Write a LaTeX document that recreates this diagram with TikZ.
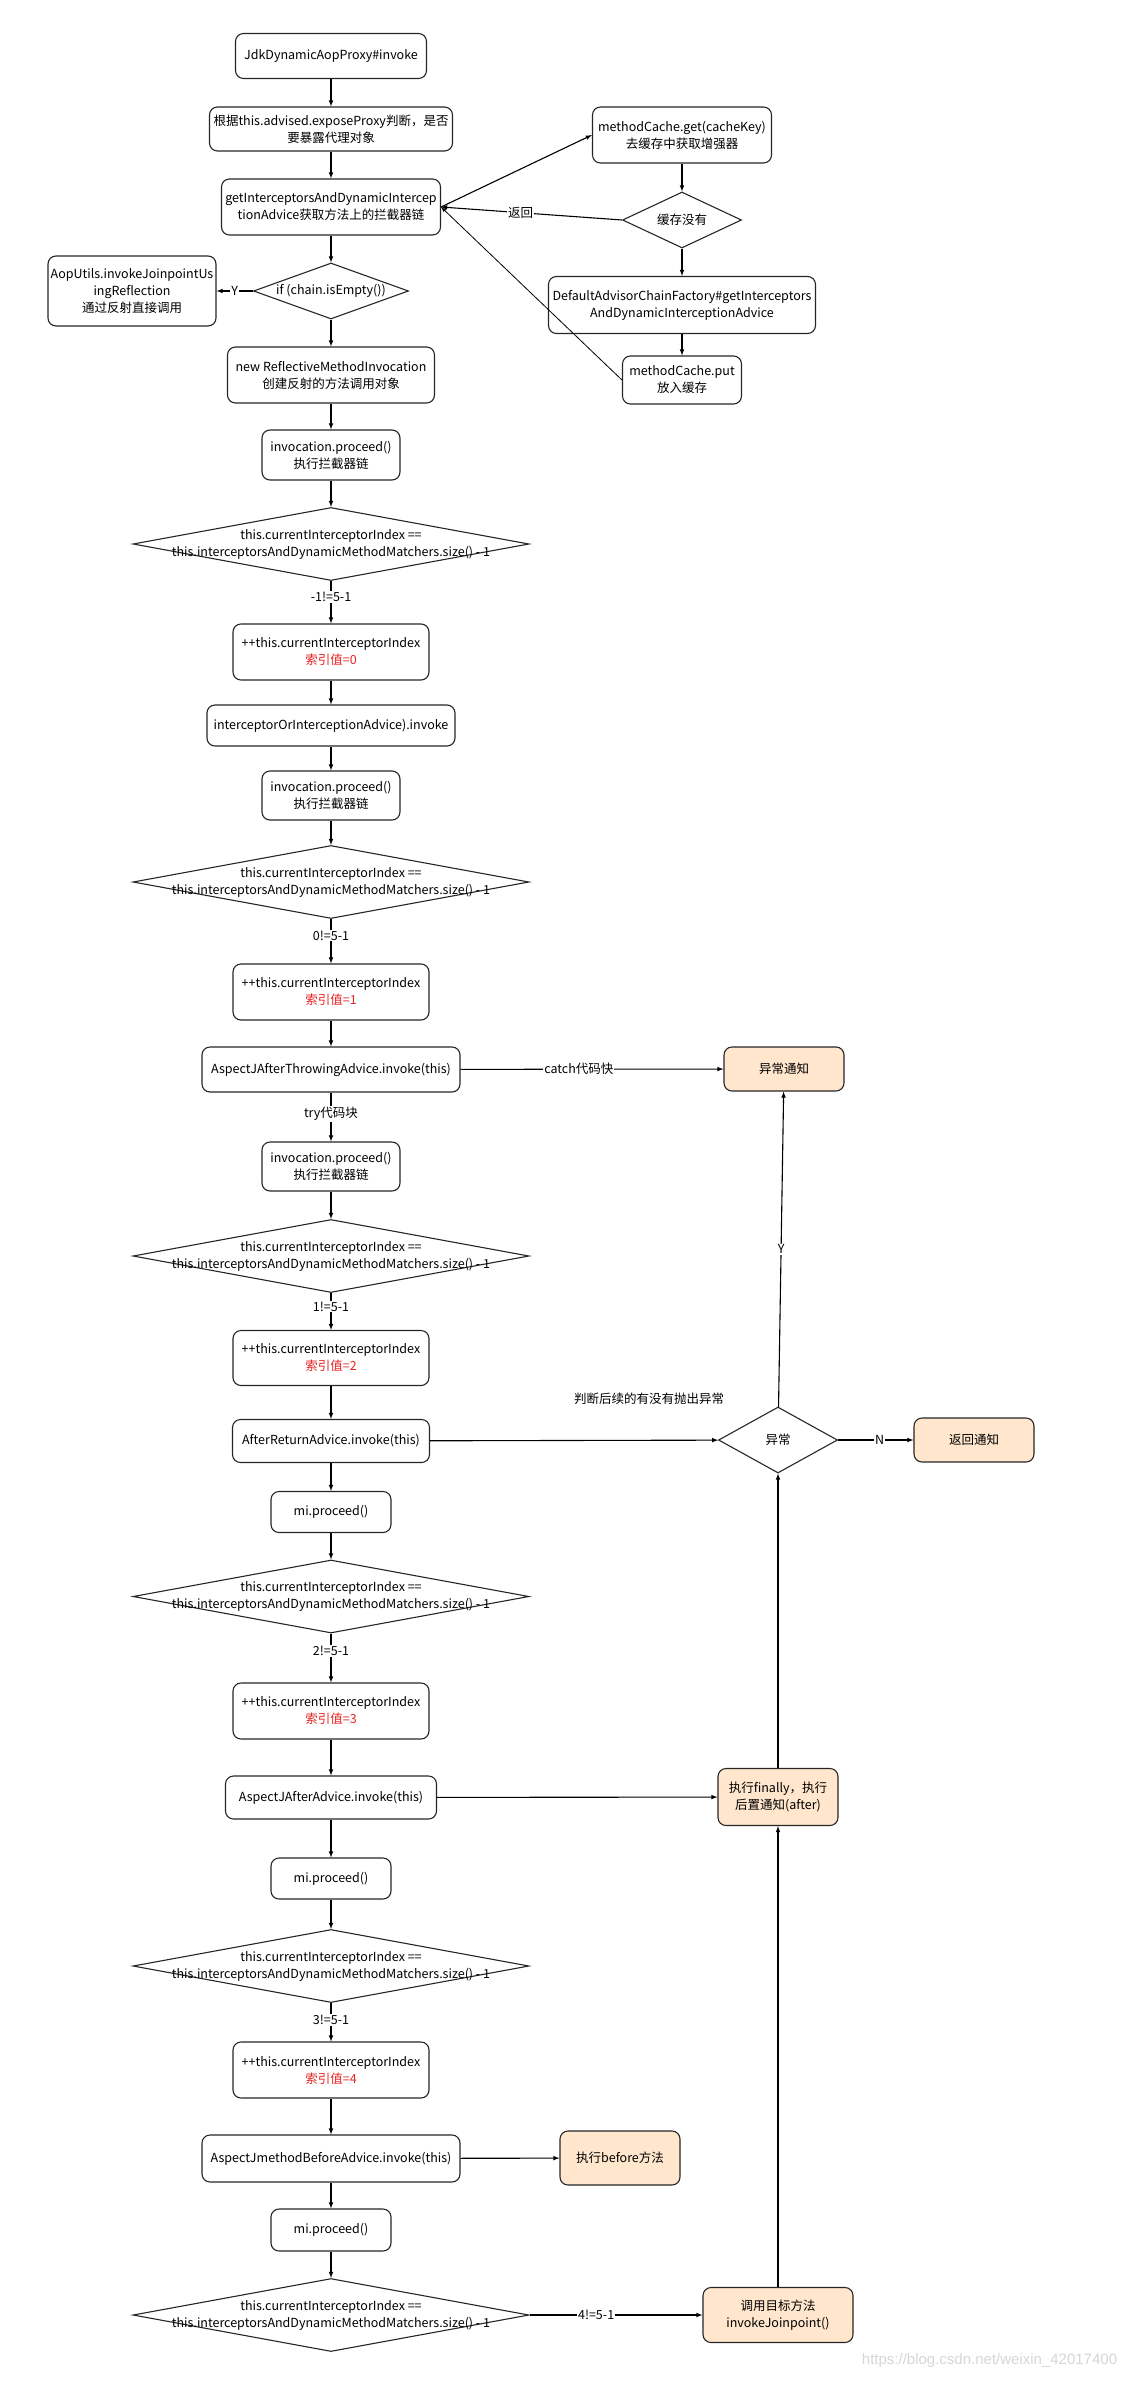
\documentclass[tikz,border=0pt]{standalone}
\usepackage{fontspec}
\setmainfont{Noto Sans CJK SC}
\newfontfamily\markfont{Liberation Sans}
\usepackage{xcolor}
\usetikzlibrary{arrows}
\usetikzlibrary{shapes.geometric}

\definecolor{notefill}{HTML}{FFE6CC}
\definecolor{idxred}{HTML}{E52222}
\newcommand{\condtext}{this.currentInterceptorIndex ==\\this.interceptorsAndDynamicMethodMatchers.size() - 1}
\newcommand{\idx}[1]{++this.currentInterceptorIndex\\{\color{idxred}索引值=#1}}

\tikzset{
  box/.style 2 args={rectangle, draw=black!85, rounded corners=8pt, minimum width=#1pt, minimum height=#2pt, inner sep=1pt, align=center},
  advbox/.style 2 args={box={#1}{#2}, fill=notefill},
  decide/.style 2 args={diamond, draw=black!85, minimum width=#1pt, minimum height=#2pt, inner sep=0pt},
  lbl/.style={fill=white, inner sep=1pt},
}

\begin{document}
\begin{tikzpicture}[x=1pt, y=-1pt, line width=1.1pt, >=latex, font=\fontsize{12.5}{17}\selectfont]

\useasboundingbox (0,0) rectangle (1123,2381);

% main column
\node[box={191}{45}] (jdk) at (331,56) {JdkDynamicAopProxy\#invoke};
\node[box={243}{44}] (expose) at (331,129) {根据this.advised.exposeProxy判断，是否\\要暴露代理对象};
\node[box={219}{56}] (getIC) at (331,207) {getInterceptorsAndDynamicIntercep\\tionAdvice获取方法上的拦截器链};
\node[decide={155}{56}] (ifEmpty) at (331,291) {};
\node (ifEmptyT) at (ifEmpty) {if (chain.isEmpty())};
\node[box={168}{70}] (aopUtils) at (132,291) {AopUtils.invokeJoinpointUs\\ingReflection\\通过反射直接调用};
\node[box={207}{56}] (newRMI) at (331,375) {new ReflectiveMethodInvocation\\创建反射的方法调用对象};
\node[box={138}{50}] (proc1) at (331,455) {invocation.proceed()\\执行拦截器链};

% the six index checks
\foreach \n/\y in {d1/544, d2/882, d3/1256, d4/1596.5, d5/1966, d6/2315} {
  \node[decide={396}{73}] (\n) at (331,\y) {};
  \node[align=center] (\n t) at (\n) {\condtext};
}

\node[box={196}{56}] (inc0) at (331,652) {\idx{0}};
\node[box={248}{41}] (icpt) at (331,725.5) {interceptorOrInterceptionAdvice).invoke};
\node[box={138}{49}] (proc2) at (331,795.5) {invocation.proceed()\\执行拦截器链};
\node[box={196}{56}] (inc1) at (331,992) {\idx{1}};
\node[box={258}{45}] (throwing) at (331,1069.5) {AspectJAfterThrowingAdvice.invoke(this)};
\node[box={138}{49}] (proc3) at (331,1166.5) {invocation.proceed()\\执行拦截器链};
\node[box={196}{55}] (inc2) at (331,1358) {\idx{2}};
\node[box={197}{43}] (afterRet) at (331,1441) {AfterReturnAdvice.invoke(this)};
\node[box={120}{41}] (mi1) at (331,1512) {mi.proceed()};
\node[box={196}{56}] (inc3) at (331,1711) {\idx{3}};
\node[box={211}{43}] (afterAdv) at (331,1797.5) {AspectJAfterAdvice.invoke(this)};
\node[box={120}{41}] (mi2) at (331,1878.5) {mi.proceed()};
\node[box={196}{56}] (inc4) at (331,2070) {\idx{4}};
\node[box={258}{47}] (before) at (331,2158.5) {AspectJmethodBeforeAdvice.invoke(this)};
\node[box={120}{42}] (mi3) at (331,2230) {mi.proceed()};

% cache lookup
\node[box={179}{56}] (cacheGet) at (682,135) {methodCache.get(cacheKey)\\去缓存中获取增强器};
\node[decide={119}{56}] (cacheNo) at (682,220) {};
\node (cacheNoT) at (cacheNo) {缓存没有};
\node[box={267}{57}] (factory) at (682,305) {DefaultAdvisorChainFactory\#getInterceptors\\AndDynamicInterceptionAdvice};
\node[box={119}{48}] (cachePut) at (682,380) {methodCache.put\\放入缓存};

% advice results
\node[advbox={120}{44}] (exNotify) at (784,1069) {异常通知};
\node[decide={119}{66}] (exDiamond) at (778,1440) {};
\node (exDiamondT) at (exDiamond) {异常};
\node[advbox={120}{44}] (retNotify) at (974,1440) {返回通知};
\node[advbox={120}{57}] (finallyBox) at (778,1797) {执行finally，执行\\后置通知(after)};
\node[advbox={120}{54}] (beforeBox) at (620,2158) {执行before方法};
\node[advbox={150}{55}] (target) at (778,2315) {调用目标方法\\invokeJoinpoint()};
\node (throwNote) at (649,1399) {判断后续的有没有抛出异常};

% arrows down the main column
\foreach \a/\b in {jdk/expose, expose/getIC, getIC/ifEmpty, ifEmpty/newRMI, newRMI/proc1, proc1/d1,
                   inc0/icpt, icpt/proc2, proc2/d2, inc1/throwing, proc3/d3, inc2/afterRet,
                   afterRet/mi1, mi1/d4, inc3/afterAdv, afterAdv/mi2, mi2/d5, inc4/before,
                   before/mi3, mi3/d6}
  \draw[->] (\a) -- (\b);

\draw[->] (d1) -- node[lbl, pos=0.37] (l1) {-1!=5-1} (inc0);
\draw[->] (d2) -- node[lbl, pos=0.37] (l2) {0!=5-1} (inc1);
\draw[->] (throwing) -- node[lbl, pos=0.44] (lTry) {try代码块} (proc3);
\draw[->] (d3) -- node[lbl, pos=0.37] (l3) {1!=5-1} (inc2);
\draw[->] (d4) -- node[lbl, pos=0.36] (l4) {2!=5-1} (inc3);
\draw[->] (d5) -- node[lbl, pos=0.44] (l5) {3!=5-1} (inc4);

\draw[->] (ifEmpty) -- node[lbl] (lY) {Y} (aopUtils);

% cache arrows
\draw[->] (getIC.east) -- (cacheGet.west);
\draw[->] (cacheGet) -- (cacheNo);
\draw[->] (cacheNo) -- (factory);
\draw[->] (factory) -- (cachePut);
\draw[->] (cacheNo.west) -- node[lbl, pos=0.56] (lBack) {返回} (getIC.east);
\draw[->, line width=0.8pt] (cachePut.west) -- (getIC.east);

% advice arrows
\draw[->] (throwing) -- node[lbl, pos=0.45] (lCatch) {catch代码快} (exNotify);
\draw[->] (afterRet) -- (exDiamond);
\draw[->] (exDiamond) -- node[lbl] (lExY) {Y} (exNotify);
\draw[->] (exDiamond) -- node[lbl, pos=0.55] (lExN) {N} (retNotify);
\draw[->] (afterAdv) -- (finallyBox);
\draw[->] (finallyBox) -- (exDiamond);
\draw[->] (before) -- (beforeBox);
\draw[->] (d6) -- node[lbl, pos=0.385] (l6) {4!=5-1} (target);
\draw[->] (target) -- (finallyBox);

\node[text=black!16, font=\markfont\fontsize{15}{18}\selectfont, anchor=east] (mark) at (1121,2361) {https://blog.csdn.net/weixin\_42017400};

\end{tikzpicture}
\end{document}
